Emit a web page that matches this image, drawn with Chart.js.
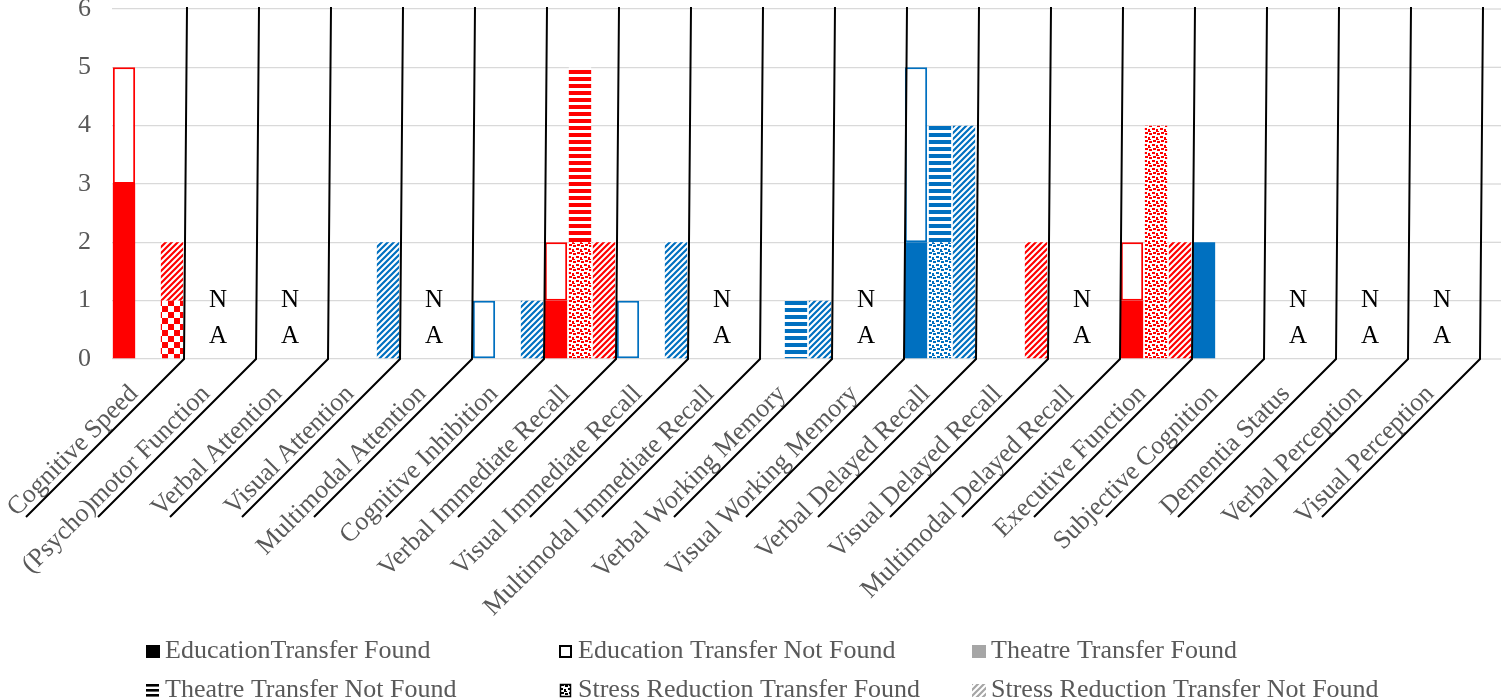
<!DOCTYPE html>
<html>
<head>
<meta charset="utf-8">
<script src="https://cdn.jsdelivr.net/npm/chart.js@4.4.1/dist/chart.umd.min.js"></script>
<style>
html,body{margin:0;padding:0;background:#fff;}
#wrap{width:1501px;height:700px;position:relative;}
canvas{display:block;}
</style>
</head>
<body>
<div id="wrap"><canvas id="c" width="1501" height="700"></canvas></div>
<script>
// ---------- data ----------
const categories = [
  'Cognitive Speed', '(Psycho)motor Function', 'Verbal Attention', 'Visual Attention',
  'Multimodal Attention', 'Cognitive Inhibition', 'Verbal Immediate Recall',
  'Visual Immediate Recall', 'Multimodal Immediate Recall', 'Verbal Working Memory',
  'Visual Working Memory', 'Verbal Delayed Recall', 'Visual Delayed Recall',
  'Multimodal Delayed Recall', 'Executive Function', 'Subjective Cognition',
  'Dementia Status', 'Verbal Perception', 'Visual Perception'
];
const seriesNames = [
  'EducationTransfer Found', 'Education Transfer Not Found', 'Theatre Transfer Found',
  'Theatre Transfer Not Found', 'Stress Reduction Transfer Found', 'Stress Reduction Transfer Not Found'
];
const educationFound       = [3, null, null, null, null, null, 1, null, null, null, null, 2, null, null, 1, 2, null, null, null];
const educationNotFound    = [2, null, null, null, null, 1, 1, 1, null, null, null, 3, null, null, 1, null, null, null, null];
const theatreFound         = [null, null, null, null, null, null, 2, null, null, null, null, 2, null, null, 4, null, null, null, null];
const theatreNotFound      = [null, null, null, null, null, null, 3, null, null, 1, null, 2, null, null, null, null, null, null, null];
const stressFound          = [1, null, null, null, null, null, null, null, null, null, null, null, null, null, null, null, null, null, null];
const stressNotFound       = [1, null, null, 2, null, 1, 2, 2, null, 1, null, 4, 2, null, 2, null, null, null, null];
const studyColour          = ['red', '', '', 'blue', '', 'blue', 'red', 'blue', '', 'blue', '', 'blue', 'red', '', 'red', 'blue', '', '', ''];
const notAssessed          = [false, true, true, false, true, false, false, false, true, false, true, false, false, true, false, false, true, true, true];
const yTicks               = [0, 1, 2, 3, 4, 5, 6];

// ---------- styling ----------
const COLOURS = { red: '#FF0000', blue: '#0070C0' };
const SERIF = '"Liberation Serif", "Times New Roman", serif';
const GRID = '#D9D9D9';
const TEXT = '#595959';

const mainCtx = document.getElementById('c').getContext('2d');
function makeTile(w, h, draw) {
  const c = document.createElement('canvas');
  c.width = w; c.height = h;
  const g = c.getContext('2d');
  g.fillStyle = '#fff'; g.fillRect(0, 0, w, h);
  draw(g);
  return c;
}
const patternCache = {};
function pattern(kind, colour) {
  const key = kind + colour;
  if (patternCache[key]) return patternCache[key];
  let t;
  if (kind === 'diag') {
    t = makeTile(6, 6, g => {
      g.strokeStyle = colour; g.lineWidth = 2.2; g.beginPath();
      for (let k = -1; k <= 1; k++) { g.moveTo(k * 6 - 1, 7); g.lineTo(k * 6 + 7, -1); }
      g.stroke();
    });
  } else if (kind === 'hstripe') {
    t = makeTile(4, 7, g => { g.fillStyle = colour; g.fillRect(0, 0, 4, 4); });
  } else if (kind === 'dots') {
    t = makeTile(8, 8, g => {
      g.fillStyle = colour;
      [[0, 0, 3, 2], [4, 1, 2, 3], [1, 4, 3, 2], [5, 5, 3, 2], [6, 3, 1, 1]].forEach(([x, y, w, h]) => g.fillRect(x, y, w, h));
    });
  } else if (kind === 'checker') {
    t = makeTile(12, 12, g => { g.fillStyle = colour; g.fillRect(0, 0, 6, 6); g.fillRect(6, 6, 6, 6); });
  }
  const p = mainCtx.createPattern(t, 'repeat');
  patternCache[key] = p;
  return p;
}
function colourAt(ctx) {
  const i = ctx.dataIndex;
  return COLOURS[studyColour[i]] || COLOURS.red;
}
function fillFor(kind) {
  return ctx => {
    const col = colourAt(ctx);
    if (kind === 'solid') return col;
    if (kind === 'outline') return '#FFFFFF';
    return pattern(kind, col);
  };
}

const seriesValues = [educationFound, educationNotFound, theatreFound, theatreNotFound, stressFound, stressNotFound];
const seriesStack = ['education', 'education', 'theatre', 'theatre', 'stress', 'stress'];
const seriesFill = ['solid', 'outline', 'dots', 'hstripe', 'checker', 'diag'];

const datasets = seriesNames.map((name, k) => ({
  label: name,
  data: seriesValues[k],
  stack: seriesStack[k],
  backgroundColor: fillFor(seriesFill[k]),
  borderColor: seriesFill[k] === 'outline' ? (ctx => colourAt(ctx)) : 'rgba(0,0,0,0)',
  borderWidth: seriesFill[k] === 'outline' ? 2 : 0,
  borderSkipped: false,
  categoryPercentage: 1.0,
  barPercentage: 0.93
}));

// ---------- legend marker drawers ----------
const markerDraw = [
  (g, x, b) => { g.fillStyle = '#000'; g.fillRect(x, b - 13, 14, 13); },
  (g, x, b) => { g.strokeStyle = '#000'; g.lineWidth = 2; g.strokeRect(x + 1, b - 12, 11, 11); },
  (g, x, b) => { g.fillStyle = '#A6A6A6'; g.fillRect(x, b - 13, 14, 13); },
  (g, x, b) => { g.fillStyle = '#000'; [13, 8, 3].forEach(o => g.fillRect(x, b - o, 13, 2.6)); },
  (g, x, b) => { g.fillStyle = pattern('dots', '#000'); g.fillRect(x + 1, b - 13, 11, 13); g.strokeStyle = '#000'; g.lineWidth = 1.5; g.strokeRect(x + 1.5, b - 12.5, 10, 12); },
  (g, x, b) => { g.fillStyle = pattern('diag', '#A6A6A6'); g.fillRect(x, b - 13, 14, 13); }
];

const overlay = {
  id: 'overlay',
  beforeDatasetsDraw(chart) {
    const { ctx, chartArea, scales: { y } } = chart;
    ctx.save();
    ctx.strokeStyle = GRID; ctx.lineWidth = 1.3;
    yTicks.forEach(v => {
      const py = y.getPixelForValue(v);
      ctx.beginPath(); ctx.moveTo(chartArea.right, py); ctx.lineTo(chart.width, py); ctx.stroke();
    });
    ctx.restore();
  },
  afterDatasetsDraw(chart) {
    const { ctx, chartArea, scales: { x, y } } = chart;
    const catW = x.getPixelForValue(1) - x.getPixelForValue(0);
    ctx.save();
    ctx.fillStyle = '#000';
    ctx.font = '25px ' + SERIF;
    ctx.textAlign = 'center'; ctx.textBaseline = 'alphabetic';
    notAssessed.forEach((na, i) => {
      if (!na) return;
      const cx = x.getPixelForValue(i) - 2;
      ctx.fillText('N', cx, y.getPixelForValue(0.89));
      ctx.fillText('A', cx, y.getPixelForValue(0.27));
    });
    ctx.strokeStyle = '#000'; ctx.lineWidth = 2; ctx.lineJoin = 'miter';
    categories.forEach((c, i) => {
      const xb = x.getPixelForValue(i) + catW / 2;
      ctx.beginPath();
      ctx.moveTo(xb + 3, chartArea.top - 2);
      ctx.lineTo(xb, chartArea.bottom);
      ctx.lineTo(xb - 158, chartArea.bottom + 158);
      ctx.stroke();
    });
    ctx.restore();
  },
  afterDraw(chart) {
    const ctx = chart.ctx;
    const colW = 413;
    const startX = chart.width / 2 + 15 - 1.5 * colW;
    const baselines = [chart.height - 42, chart.height - 3];
    ctx.save();
    ctx.font = '26px ' + SERIF;
    ctx.textAlign = 'left'; ctx.textBaseline = 'alphabetic';
    chart.data.datasets.forEach((ds, k) => {
      const col = k % 3, row = Math.floor(k / 3);
      const mx = startX + col * colW;
      const b = baselines[row];
      markerDraw[k](ctx, mx, b);
      ctx.fillStyle = TEXT;
      ctx.fillText(ds.label, mx + 19, b);
    });
    ctx.restore();
  }
};

new Chart(document.getElementById('c'), {
  type: 'bar',
  data: { labels: categories, datasets },
  options: {
    responsive: false,
    animation: false,
    devicePixelRatio: 1,
    layout: { padding: { top: 9, right: 21, left: 0, bottom: 0 } },
    plugins: { legend: { display: false }, tooltip: { enabled: false } },
    scales: {
      x: {
        stacked: true,
        grid: { display: false, drawTicks: false },
        border: { display: false },
        ticks: {
          autoSkip: false, maxRotation: 45, minRotation: 45,
          font: { family: SERIF, size: 26 }, color: TEXT,
          labelOffset: -14, padding: 20
        },
        afterFit: s => { s.height = 341; s.paddingLeft = 0; s.paddingRight = 0; }
      },
      y: {
        stacked: true,
        min: 0, max: 6,
        grid: { color: GRID, lineWidth: 1.3, drawTicks: false },
        border: { display: false },
        ticks: { stepSize: 1, font: { family: SERIF, size: 26 }, color: TEXT, padding: 21 },
        afterFit: s => { s.width = 112; s.paddingTop = 0; s.paddingBottom = 0; }
      }
    }
  },
  plugins: [overlay]
});
</script>
</body>
</html>
